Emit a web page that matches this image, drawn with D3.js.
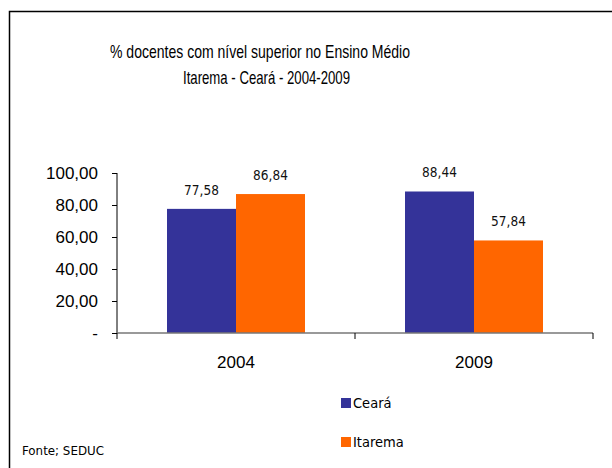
<!DOCTYPE html>
<html><head><meta charset="utf-8">
<script src="https://cdn.jsdelivr.net/npm/d3@7"></script>
<style>body{margin:0;background:#fff}svg{display:block}</style>
</head><body><svg id="c" width="612" height="468"></svg>
<script>
const categories = ["2004", "2009"];
const seriesNames = ["Ceará", "Itarema"];
const ceara = [77.58, 88.44];
const itarema = [86.84, 57.84];
const yTicks = [0, 20, 40, 60, 80, 100];
const yTickLabels = ["-", "20,00", "40,00", "60,00", "80,00", "100,00"];
const colors = ["#343399", "#FF6600"];

const svg = d3.select("#c");
const fmt = v => v.toFixed(2).replace(".", ",");

// frame
svg.append("path").attr("d", "M9.5,468 L9.5,11.5 L612,11.5").attr("fill", "none").attr("stroke", "#000").attr("stroke-width", 1.5);

// title
const tf = "'Liberation Sans',Arial,sans-serif";
svg.append("text").attr("x", 110).attr("y", 58).attr("font-family", tf).attr("font-size", 19)
  .attr("textLength", 300).attr("lengthAdjust", "spacingAndGlyphs").text("% docentes com nível  superior no Ensino Médio");
svg.append("text").attr("x", 183).attr("y", 84).attr("font-family", tf).attr("font-size", 19)
  .attr("textLength", 167).attr("lengthAdjust", "spacingAndGlyphs").text("Itarema  -  Ceará - 2004-2009");

const x0 = d3.scaleBand().domain(categories).range([117, 593]).paddingInner(0).paddingOuter(0);
const x1 = d3.scaleBand().domain(seriesNames).range([50, x0.bandwidth() - 50]);
const y = d3.scaleLinear().domain([0, 100]).range([333, 173]);

const data = categories.map((c, i) => ({cat: c, vals: [ceara[i], itarema[i]]}));

const vf = "'DejaVu Sans Condensed','DejaVu Sans',sans-serif";
const g = svg.append("g");
data.forEach(d => {
  d.vals.forEach((v, j) => {
    const bx = x0(d.cat) + x1(seriesNames[j]);
    g.append("rect").attr("x", bx).attr("y", y(v)).attr("width", x1.bandwidth()).attr("height", y(0) - y(v)).attr("fill", colors[j]);
    g.append("text").attr("x", bx + x1.bandwidth() / 2).attr("y", y(v) - 14)
      .attr("text-anchor", "middle").attr("font-family", vf).attr("font-size", 13.5).attr("fill", "#111").text(fmt(v));
  });
});

// y axis
const yAxis = d3.axisLeft(y).tickValues(yTicks).tickSize(5).tickFormat((d, i) => yTickLabels[i]);
const ya = svg.append("g").attr("transform", "translate(117,0)").call(yAxis);
ya.select(".domain").attr("stroke", "#000").attr("d", "M0,333V173");
ya.selectAll(".tick line").attr("stroke", "#000");
ya.selectAll(".tick text").attr("x", -19).attr("dy", "0.35em").attr("font-family", tf).attr("font-size", 17).attr("fill", "#000");

// x axis
const xa = svg.append("g").attr("transform", "translate(0,333)");
xa.append("line").attr("x1", 117).attr("x2", 593).attr("y1", 0).attr("y2", 0).attr("stroke", "#777").attr("stroke-width", 1.5);
const bounds = [117, x0("2009"), 593];
bounds.forEach(b => xa.append("line").attr("x1", b).attr("x2", b).attr("y1", 0).attr("y2", 6).attr("stroke", "#000"));
categories.forEach(c => xa.append("text").attr("x", x0(c) + x0.bandwidth() / 2).attr("y", 35).attr("text-anchor", "middle")
  .attr("font-family", tf).attr("font-size", 17).text(c));

// legend
seriesNames.forEach((s, i) => {
  const ly = 398 + i * 39;
  svg.append("rect").attr("x", 341).attr("y", ly).attr("width", 10).attr("height", 10).attr("fill", colors[i]);
  svg.append("text").attr("x", 353).attr("y", ly + 10).attr("font-family", vf).attr("font-size", 14.5).attr("fill", "#000").text(s);
});

svg.append("text").attr("x", 22).attr("y", 455).attr("font-family", vf).attr("font-size", 13).attr("fill", "#000")
  .attr("textLength", 82).attr("lengthAdjust", "spacingAndGlyphs").text("Fonte; SEDUC");
</script></body></html>
